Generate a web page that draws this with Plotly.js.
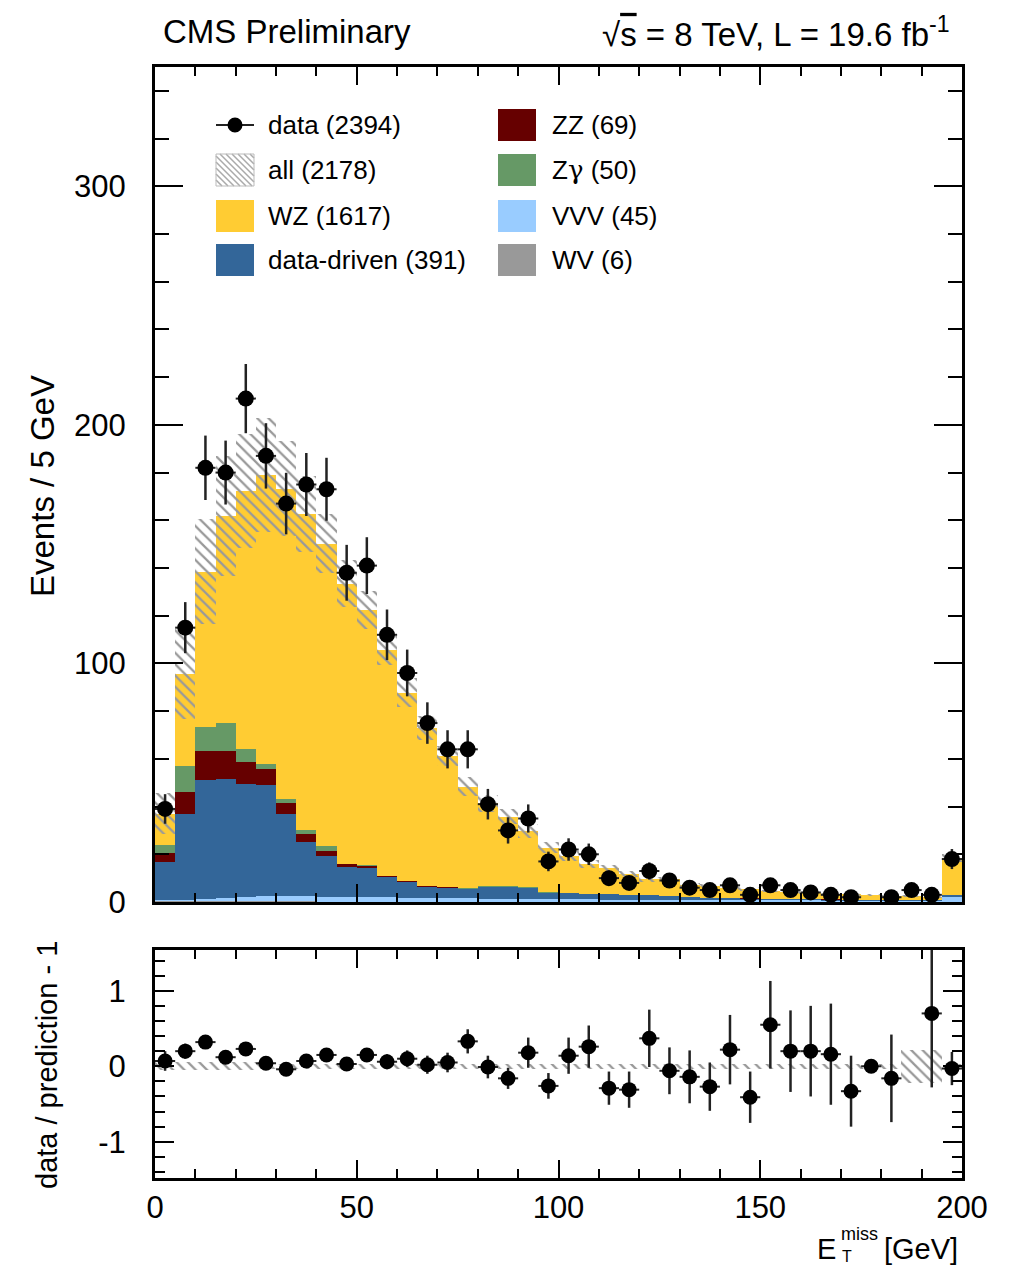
<!DOCTYPE html>
<html><head><meta charset="utf-8">
<script src="https://cdn.plot.ly/plotly-3.0.1.min.js"></script>
<style>html,body{margin:0;padding:0;background:#fff}#plot{width:1010px;height:1266px}</style>
</head><body><div id="plot"></div>
<script>
// ---------- data ----------
const binCenters = [2.5,7.5,12.5,17.5,22.5,27.5,32.5,37.5,42.5,47.5,52.5,57.5,62.5,67.5,72.5,77.5,82.5,87.5,92.5,97.5,102.5,107.5,112.5,117.5,122.5,127.5,132.5,137.5,142.5,147.5,152.5,157.5,162.5,167.5,172.5,177.5,182.5,187.5,192.5,197.5];
const dataCounts = [39,115,182,180,211,187,167,175,173,138,141,112,96,75,64,64,41,30,35,17,22,20,10,8,13,9,6,5,7,3,7,5,4,3,2,null,2,5,3,18];
const dataErr = [6.2,10.7,13.5,13.4,14.5,13.7,12.9,13.2,13.2,11.7,11.9,10.6,9.8,8.7,8.0,8.0,6.4,5.5,5.9,4.1,4.7,4.5,3.2,2.8,3.6,3.0,2.4,2.2,2.6,1.7,2.6,2.2,2.0,1.7,1.4,0,1.4,2.2,1.7,4.2];
const wv = [0.4,0.4,0.4,0.4,0.4,0.4,0.4,0.4,0.2,0.2,0.2,0.2,0.2,0.2,0.2,0.2,0.05,0.05,0.05,0.05,0.05,0.05,0.05,0.05,0.05,0.05,0.05,0.05,0.05,0.05,0.05,0.05,0.05,0.05,0.05,0.05,0.05,0.05,0.05,0.05];
const vvv = [0.3,0.5,0.8,1.4,1.8,2.0,2.0,2.0,1.9,1.8,1.8,1.7,1.6,1.5,1.5,1.4,1.3,1.3,1.2,1.2,1.1,1.1,1.0,1.0,0.9,0.9,0.8,0.8,0.7,0.7,0.6,0.6,0.6,0.5,0.5,0.5,0.5,0.4,0.4,2.2];
const dataDriven = [16.1,35.9,50.0,49.9,47.1,46.5,34.4,22.9,17.2,12.7,12.4,8.6,6.6,4.7,4.3,3.7,4.8,4.8,4.5,2.5,2.6,2.0,2.1,1.7,1.8,1.5,1.1,0.9,1.0,0.7,0.7,0.6,0.5,0.5,0.4,0.3,0.3,0.5,0.5,0.5];
const zz = [3.6,9.5,12.1,11.7,9.5,6.7,4.8,3.3,2.1,1.1,0.7,0.4,0.3,0.3,0.3,0.3,0.3,0.25,0.25,0.2,0.2,0.15,0.15,0.1,0.1,0.1,0.1,0.1,0.05,0.05,0.05,0.05,0.05,0.05,0.05,0.05,0.05,0.05,0.05,0.1];
const zgamma = [3.5,10.7,10.2,11.5,5.4,2.4,1.4,1.4,2.1,0.2,0.5,0.1,0.1,0.1,0.1,0.1,0.1,0.1,0.1,0.1,0,0,0,0,0,0,0,0,0,0,0,0,0,0,0,0,0,0,0,0.2];
const wz = [13.1,38.7,65.0,86.9,108.1,120.9,130.3,132.5,126.7,117.5,106.8,94.5,79.0,66.2,55.0,42.7,34.9,29.3,23.6,18.7,15.3,12.6,10.8,8.9,6.7,7.0,4.9,5.0,3.9,3.9,3.2,2.8,2.7,2.2,2.2,1.9,1.7,1.4,1.0,15.4];
const allUnc = [8.6,19,22,25,24,24,20,16,12.5,10,8,6,6,5,4.2,4,3.6,3.2,2.8,2.3,2.0,1.7,1.5,1.3,1.1,1.1,0.9,0.9,0.8,0.7,0.6,0.6,0.5,0.5,0.5,0.4,0.4,0.5,0.5,1.5];
const ratio = [0.07,0.2,0.32,0.12,0.23,0.04,-0.04,0.07,0.15,0.03,0.15,0.06,0.1,0.02,0.05,0.33,-0.01,-0.16,0.18,-0.26,0.14,0.26,-0.29,-0.31,0.37,-0.06,-0.14,-0.27,0.22,-0.41,0.55,0.2,0.2,0.16,-0.33,0.0,-0.16,null,0.7,-0.03];
const ratioErr = [0.13,0.1,0.08,0.08,0.08,0.08,0.08,0.09,0.09,0.09,0.09,0.1,0.11,0.12,0.13,0.16,0.15,0.14,0.2,0.17,0.24,0.28,0.22,0.24,0.38,0.31,0.35,0.32,0.46,0.34,0.58,0.54,0.6,0.67,0.47,0,0.58,null,0.98,0.22];
const ratioBand = [0.05,0.05,0.05,0.05,0.05,0.03,0.03,0.03,0.03,0.03,0.03,0.03,0.03,0.03,0.03,0.03,0.03,0.03,0.03,0.03,0.03,0.03,0.03,0.03,0.03,0.03,0.03,0.03,0.03,0.03,0.03,0.03,0.03,0.03,0.03,0.03,0.03,0.22,0.22,0.03];
const legendLeft = ['data (2394)','all (2178)','WZ (1617)','data-driven (391)'];
const legendRight = ['ZZ (69)','Z<span style="font-family:DejaVu Serif">γ</span> (50)','VVV (45)','WV (6)'];
const xTickVals = [0,50,100,150,200];
const yTickVals = [0,100,200,300];
const rTickVals = [-1,0,1];
const rTickText = ['-1','0','1'];

// ---------- styles ----------
const FONT = 'Liberation Sans, Arial, Helvetica, sans-serif';
const colors = {wv:'#999999', vvv:'#99ccff', dd:'#336699', zz:'#660000', zg:'#669966', wz:'#ffcc33', hatch:'#999999'};

// ---------- build stacked layers ----------
const layers = [
  {name:'WV', v:wv, c:colors.wv},
  {name:'VVV', v:vvv, c:colors.vvv},
  {name:'data-driven', v:dataDriven, c:colors.dd},
  {name:'ZZ', v:zz, c:colors.zz},
  {name:'Zgamma', v:zgamma, c:colors.zg},
  {name:'WZ', v:wz, c:colors.wz}
];
const traces = [];
let cum = binCenters.map(()=>0);
layers.forEach(l=>{
  traces.push({type:'bar', x:binCenters, y:l.v, base:cum.slice(), width:5, xaxis:'x', yaxis:'y',
    marker:{color:l.c, line:{width:0}}, showlegend:false, hoverinfo:'skip'});
  cum = cum.map((c,i)=>c + l.v[i]);
});
const total = cum;
traces.push({type:'bar', x:binCenters, y:allUnc.map(u=>2*u), base:total.map((t,i)=>t-allUnc[i]), width:5,
  xaxis:'x', yaxis:'y', showlegend:false, hoverinfo:'skip',
  marker:{color:'rgba(0,0,0,0)', line:{width:0}, pattern:{shape:'\\', fgcolor:colors.hatch, bgcolor:'rgba(0,0,0,0)', size:8, solidity:0.28}}});
traces.push({type:'scatter', mode:'markers', x:binCenters, y:dataCounts, xaxis:'x', yaxis:'y', showlegend:false,
  marker:{color:'black', size:16},
  error_y:{type:'data', array:dataErr, visible:true, width:0, thickness:2.5, color:'#222'},
  error_x:{type:'constant', value:2.5, visible:true, width:0, thickness:2, color:'#222'}});
// ratio panel
traces.push({type:'bar', x:binCenters, y:ratioBand.map(u=>2*u), base:ratioBand.map(u=>-u), width:5,
  xaxis:'x2', yaxis:'y2', showlegend:false, hoverinfo:'skip',
  marker:{color:'rgba(0,0,0,0)', line:{width:0}, pattern:{shape:'\\', fgcolor:colors.hatch, bgcolor:'rgba(0,0,0,0)', size:8, solidity:0.28}}});
traces.push({type:'scatter', mode:'markers', x:binCenters, y:ratio, xaxis:'x2', yaxis:'y2', showlegend:false,
  marker:{color:'black', size:15},
  error_y:{type:'data', array:ratioErr, visible:true, width:0, thickness:2.5, color:'#222'},
  error_x:{type:'constant', value:2.5, visible:true, width:0, thickness:2, color:'#222'}});

// ---------- layout helpers (pixel -> paper) ----------
const PL=155, PR=962, PT=67, PB=1178;
const px = x => (x-PL)/(PR-PL);
const py = y => (PB-y)/(PB-PT);

const axBase = {showline:true, linecolor:'black', linewidth:3, mirror:'allticks', ticks:'inside',
  tickcolor:'black', tickwidth:2, showgrid:false, zeroline:false, fixedrange:true,
  tickfont:{family:FONT, size:31, color:'black'}};

const shapes = [];
const annotations = [];
const tfont = s => ({family:FONT, size:s, color:'black'});

// header
annotations.push({xref:'paper', yref:'paper', x:px(161), y:py(32), xanchor:'left', yanchor:'middle', showarrow:false,
  text:'CMS Preliminary', font:tfont(33)});
annotations.push({xref:'paper', yref:'paper', x:px(952), y:py(32), xanchor:'right', yanchor:'middle', showarrow:false,
  text:'√<span style="text-decoration:overline">s</span> = 8 TeV, L = 19.6 fb<sup>-1</sup>', font:tfont(33)});
// axis titles
annotations.push({xref:'paper', yref:'paper', x:px(42), y:py(486), xanchor:'center', yanchor:'middle', showarrow:false,
  textangle:-90, text:'Events / 5 GeV', font:tfont(33)});
annotations.push({xref:'paper', yref:'paper', x:px(47), y:py(1065), xanchor:'center', yanchor:'middle', showarrow:false,
  textangle:-90, text:'data / prediction - 1', font:tfont(29)});
annotations.push({xref:'paper', yref:'paper', x:px(960), y:py(1249), xanchor:'right', yanchor:'middle', showarrow:false,
  text:'[GeV]', font:tfont(29)});
annotations.push({xref:'paper', yref:'paper', x:px(838), y:py(1249), xanchor:'right', yanchor:'middle', showarrow:false,
  text:'E', font:tfont(29)});
annotations.push({xref:'paper', yref:'paper', x:px(839), y:py(1234), xanchor:'left', yanchor:'middle', showarrow:false,
  text:'miss', font:tfont(18)});
annotations.push({xref:'paper', yref:'paper', x:px(840), y:py(1256), xanchor:'left', yanchor:'middle', showarrow:false,
  text:'T', font:tfont(16)});

// legend
const rowsY = [125,170,216,260];
function rectP(x0,y0,x1,y1,fill,line){
  shapes.push({type:'rect', xref:'paper', yref:'paper', x0:px(x0), x1:px(x1), y0:py(y1), y1:py(y0),
    fillcolor:fill, line:line||{width:0}, layer:'above'});
}
legendLeft.forEach((t,i)=>{
  annotations.push({xref:'paper', yref:'paper', x:px(266), y:py(rowsY[i]), xanchor:'left', yanchor:'middle', showarrow:false, text:t, font:tfont(26)});
});
legendRight.forEach((t,i)=>{
  annotations.push({xref:'paper', yref:'paper', x:px(550), y:py(rowsY[i]), xanchor:'left', yanchor:'middle', showarrow:false, text:t, font:tfont(26)});
});
// data entry
shapes.push({type:'line', xref:'paper', yref:'paper', x0:px(216), x1:px(254), y0:py(125), y1:py(125), line:{color:'#222', width:2}, layer:'above'});
shapes.push({type:'circle', xref:'paper', yref:'paper', x0:px(227.5), x1:px(242.5), y0:py(132.5), y1:py(117.5), fillcolor:'black', line:{width:0}, layer:'above'});
// all entry (hatched box)
(function(){
  const x0=216, x1=254, y0=154, y1=186, w=x1-x0, h=y1-y0, step=6;
  let d='';
  for(let c=-h; c<w; c+=step){
    let sx=x0+c, sy=y0;
    if(sx<x0){ sy=y0+(x0-sx); sx=x0; }
    let ex=x0+c+h, ey=y1;
    if(ex>x1){ ey=y1-(ex-x1); ex=x1; }
    if(ey<=sy) continue;
    d += `M${px(sx)},${py(sy)} L${px(ex)},${py(ey)} `;
  }
  shapes.push({type:'path', xref:'paper', yref:'paper', path:d, line:{color:'#aaaaaa', width:1.5}, layer:'above'});
  rectP(x0,y0,x1,y1,'rgba(0,0,0,0)',{color:'#bbbbbb', width:1});
})();
rectP(216,200,254,232,colors.wz);
rectP(216,244,254,276,colors.dd);
rectP(498,109,536,141,colors.zz);
rectP(498,154,536,186,colors.zg);
rectP(498,200,536,232,colors.vvv);
rectP(498,244,536,276,colors.wv);

const layout = {
  width:1010, height:1266, margin:{l:PL, r:1010-PR, t:PT, b:1266-PB},
  paper_bgcolor:'white', plot_bgcolor:'white', barmode:'overlay', bargap:0, showlegend:false,
  font:{family:FONT, color:'black'},
  xaxis:Object.assign({}, axBase, {anchor:'y', range:[0,200], tickvals:xTickVals, showticklabels:false, ticklen:18,
    minor:{ticks:'inside', dtick:10, ticklen:9, tickwidth:2, tickcolor:'black', showgrid:false}}),
  yaxis:Object.assign({}, axBase, {anchor:'x', domain:[py(902),1], range:[0,350], tickvals:yTickVals, ticklen:28,
    ticklabelstandoff:20, minor:{ticks:'inside', dtick:20, ticklen:14, tickwidth:2, tickcolor:'black', showgrid:false}}),
  xaxis2:Object.assign({}, axBase, {anchor:'y2', range:[0,200], tickvals:xTickVals, ticklen:18, ticklabelstandoff:0,
    minor:{ticks:'inside', dtick:10, ticklen:9, tickwidth:2, tickcolor:'black', showgrid:false}}),
  yaxis2:Object.assign({}, axBase, {anchor:'x2', domain:[0,py(950)], range:[-1.48,1.54], tickvals:rTickVals, ticktext:rTickText, ticklen:19,
    ticklabelstandoff:20, minor:{ticks:'inside', dtick:0.2, ticklen:10, tickwidth:2, tickcolor:'black', showgrid:false}}),
  shapes:shapes, annotations:annotations
};
Plotly.newPlot('plot', traces, layout, {staticPlot:true, displayModeBar:false});
</script></body></html>
